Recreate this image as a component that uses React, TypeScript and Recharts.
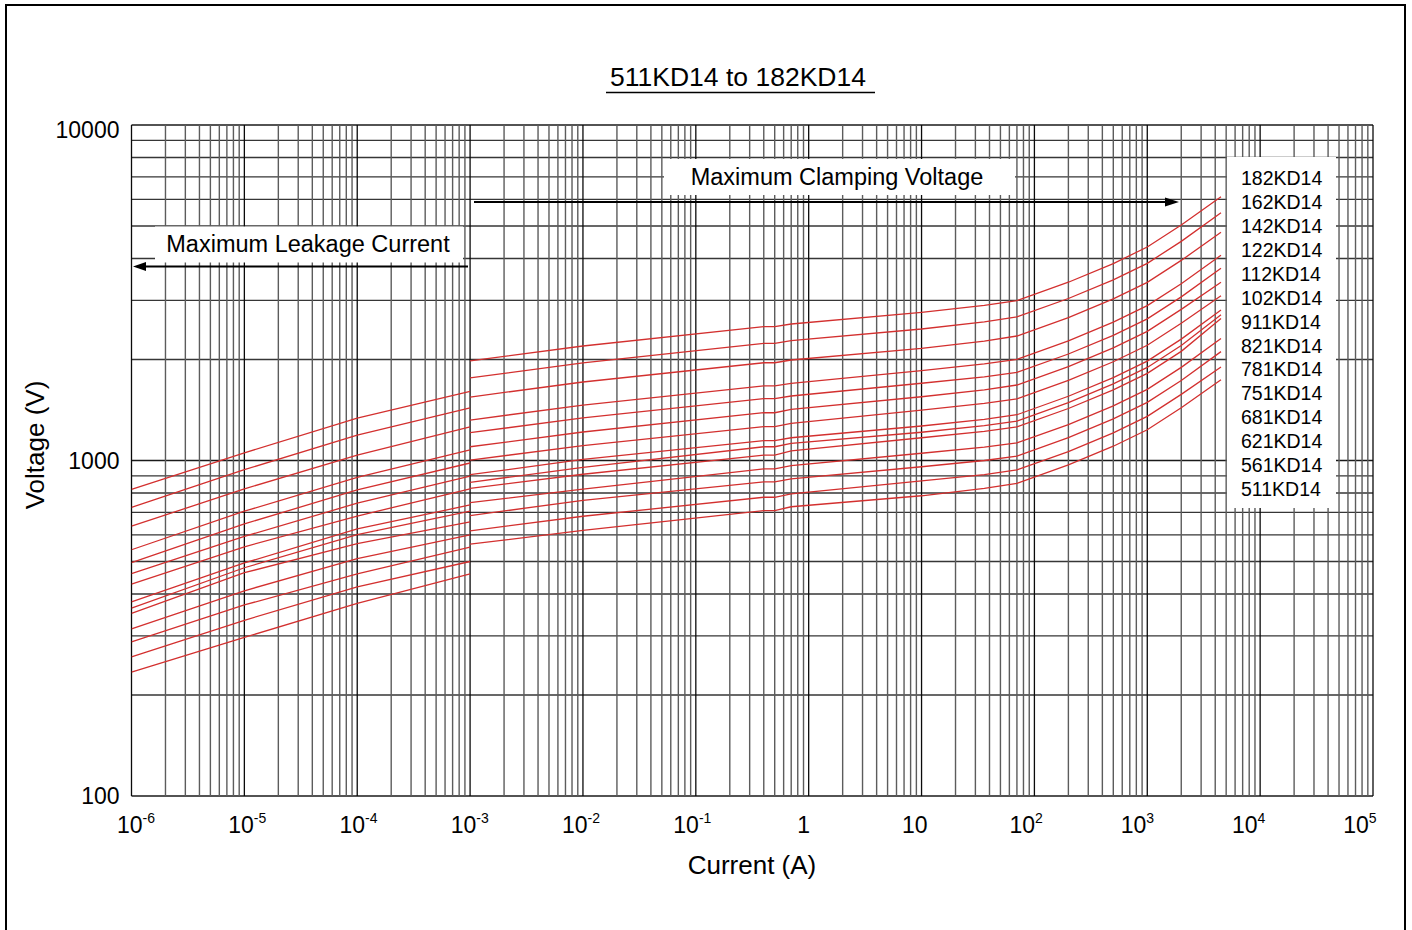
import { Line, LineChart, ReferenceLine, XAxis, YAxis } from "recharts";

const SERIES = [
  "182KD14", "162KD14", "142KD14", "122KD14", "112KD14", "102KD14", "911KD14",
  "821KD14", "781KD14", "751KD14", "681KD14", "621KD14", "561KD14", "511KD14",
];

// leakage side, current in A
const LEAK_I = [1e-6, 1e-5, 1e-4, 1e-3];
const LEAK_V = [
  [820, 1054, 1337, 1606],
  [725, 939, 1190, 1434],
  [637, 823, 1038, 1259],
  [542, 706, 890, 1075],
  [496, 647, 817, 983],
  [460, 594, 746, 899],
  [428, 553, 683, 823],
  [379, 495, 625, 737],
  [363, 479, 601, 707],
  [350, 463, 565, 656],
  [315, 409, 510, 600],
  [288, 371, 459, 552],
  [260, 334, 420, 500],
  [234, 297, 375, 459],
];

// clamping side
const CLAMP_I = [1e-3, 1e-2, 0.4, 0.5, 0.7, 10, 36, 70, 200, 500, 1000, 2000, 4500];
const CLAMP_V = [
  [1981, 2194, 2505, 2505, 2552, 2765, 2899, 2995, 3399, 3864, 4328, 5032, 6113],
  [1762, 1953, 2235, 2235, 2276, 2466, 2589, 2678, 3040, 3455, 3870, 4499, 5478],
  [1546, 1714, 1956, 1956, 1993, 2160, 2270, 2350, 2667, 3032, 3396, 3948, 4788],
  [1320, 1463, 1668, 1668, 1699, 1852, 1940, 2003, 2273, 2584, 2894, 3365, 4089],
  [1210, 1339, 1529, 1529, 1557, 1699, 1775, 1830, 2077, 2361, 2644, 3074, 3741],
  [1099, 1216, 1388, 1388, 1421, 1549, 1624, 1679, 1906, 2166, 2426, 2821, 3398],
  [1003, 1107, 1261, 1261, 1291, 1414, 1479, 1526, 1732, 1969, 2205, 2564, 3099],
  [907, 1008, 1146, 1146, 1169, 1267, 1326, 1369, 1554, 1766, 1978, 2300, 2809],
  [861, 954, 1099, 1099, 1125, 1214, 1270, 1311, 1488, 1691, 1894, 2202, 2720],
  [826, 910, 1038, 1038, 1069, 1169, 1221, 1259, 1429, 1624, 1819, 2115, 2650],
  [749, 822, 944, 944, 965, 1051, 1096, 1128, 1280, 1455, 1630, 1895, 2310],
  [685, 761, 863, 863, 881, 958, 1000, 1031, 1170, 1330, 1490, 1732, 2111],
  [617, 682, 777, 777, 795, 869, 908, 937, 1063, 1209, 1354, 1574, 1900],
  [563, 619, 709, 709, 728, 785, 826, 855, 970, 1103, 1235, 1436, 1741],
];

const DECADES = [1e-6, 1e-5, 1e-4, 1e-3, 1e-2, 1e-1, 1, 10, 100, 1e3, 1e4, 1e5];
const X_BASE = ["10", "10", "10", "10", "10", "10", "1", "10", "10", "10", "10", "10"];
const X_EXP = ["-6", "-5", "-4", "-3", "-2", "-1", "", "", "2", "3", "4", "5"];
const Y_TICKS = [100, 1000, 10000];
const MULT = [2, 3, 4, 5, 6, 7, 8, 9];

const FONT = '"Liberation Sans", Arial, Helvetica, sans-serif';
const RED = "#d3302f";

const rows = (xs: number[], vs: number[]) => xs.map((i, k) => ({ i, v: vs[k] }));

const minorX = DECADES.slice(0, -1).flatMap((d) => MULT.map((m) => d * m));
const minorY = [100, 1000].flatMap((d) => MULT.map((m) => d * m));

function XTick(props: any) {
  const { x, y, payload } = props;
  const k = DECADES.indexOf(payload.value);
  if (k < 0) return null;
  const dx = 4.5 - 1.6 * k;
  return (
    <text x={x + dx} y={y + 37} textAnchor="middle" fontFamily={FONT} fontSize={23} fill="#000">
      <tspan>{X_BASE[k]}</tspan>
      {X_EXP[k] && (
        <tspan dy={-10} fontSize={14}>
          {X_EXP[k]}
        </tspan>
      )}
    </text>
  );
}

function YTick(props: any) {
  const { x, y, payload } = props;
  const extra = payload.value === 10000 ? 5 : 0;
  return (
    <text x={x} y={y + 8 + extra} textAnchor="end" fontFamily={FONT} fontSize={23} fill="#000">
      {payload.value}
    </text>
  );
}

export default function App() {
  return (
    <div
      style={{
        position: "absolute",
        left: 0,
        top: 0,
        width: 1412,
        height: 930,
        background: "#fff",
        overflow: "hidden",
        fontFamily: FONT,
      }}
    >
      <LineChart width={1412} height={930} margin={{ top: 125, right: 39, bottom: 74, left: 31.5 }}>
        <XAxis
          dataKey="i"
          type="number"
          scale="log"
          domain={[1e-6, 1e5]}
          allowDataOverflow
          ticks={DECADES}
          interval={0}
          tickLine={false}
          axisLine={false}
          tickSize={0}
          tickMargin={0}
          height={60}
          tick={(p: any) => <XTick {...p} />}
        />
        <YAxis
          type="number"
          scale="log"
          domain={[100, 10000]}
          allowDataOverflow
          ticks={Y_TICKS}
          interval={0}
          tickLine={false}
          axisLine={false}
          tickSize={0}
          tickMargin={12}
          width={100}
          tick={(p: any) => <YTick {...p} />}
        />
        {minorY.map((v) => (
          <ReferenceLine key={"hy" + v} y={v} stroke="#363636" strokeWidth={1.3} zIndex={-50} />
        ))}
        {Y_TICKS.map((v) => (
          <ReferenceLine key={"hY" + v} y={v} stroke="#1a1a1a" strokeWidth={1.4} zIndex={-50} />
        ))}
        {minorX.map((v) => (
          <ReferenceLine key={"vx" + v} x={v} stroke="#5c5c5c" strokeWidth={1.4} zIndex={-50} />
        ))}
        {DECADES.map((v) => (
          <ReferenceLine key={"vX" + v} x={v} stroke="#0a0a0a" strokeWidth={1.3} zIndex={-50} />
        ))}
        {SERIES.map((name, s) => (
          <Line
            key={"l" + name}
            name={name}
            data={rows(LEAK_I, LEAK_V[s])}
            dataKey="v"
            type="linear"
            stroke={RED}
            strokeWidth={1.3}
            dot={false}
            activeDot={false}
            isAnimationActive={false}
          />
        ))}
        {SERIES.map((name, s) => (
          <Line
            key={"c" + name}
            name={name}
            data={rows(CLAMP_I, CLAMP_V[s])}
            dataKey="v"
            type="linear"
            stroke={RED}
            strokeWidth={1.3}
            dot={false}
            activeDot={false}
            isAnimationActive={false}
          />
        ))}
      </LineChart>

      <svg
        width={1412}
        height={930}
        style={{ position: "absolute", left: 0, top: 0, pointerEvents: "none" }}
        fontFamily={FONT}
      >
        {/* title */}
        <text x={738} y={86} textAnchor="middle" fontSize={26.5} fill="#000">
          511KD14 to 182KD14
        </text>
        <line x1={606} x2={875} y1={92.5} y2={92.5} stroke="#000" strokeWidth={1.3} />

        {/* clamping annotation */}
        <rect x={664} y={159} width={351} height={36} fill="#fff" />
        <text x={837} y={185} textAnchor="middle" fontSize={23.5} fill="#000">
          Maximum Clamping Voltage
        </text>
        <line x1={474} x2={1168} y1={202} y2={202} stroke="#000" strokeWidth={2} />
        <polygon points="1179,202 1165,197.5 1165,206.5" fill="#000" />

        {/* leakage annotation */}
        <rect x={155} y={226.5} width={308} height={36} fill="#fff" />
        <text x={308} y={252} textAnchor="middle" fontSize={23.5} fill="#000">
          Maximum Leakage Current
        </text>
        <line x1={143} x2={468} y1={266.5} y2={266.5} stroke="#000" strokeWidth={2} />
        <polygon points="133,266.5 146,262 146,271" fill="#000" />

        {/* legend */}
        <rect x={1227} y={157} width={109} height={351} fill="#fff" />
        {SERIES.map((name, s) => (
          <text key={name} x={1241} y={185 + s * 23.93} fontSize={19.5} fill="#000">
            {name}
          </text>
        ))}

        {/* axis titles */}
        <text x={752} y={874} textAnchor="middle" fontSize={26} fill="#000">
          Current (A)
        </text>
        <text
          x={44}
          y={445}
          textAnchor="middle"
          fontSize={26}
          fill="#000"
          transform="rotate(-90 44 445)"
        >
          Voltage (V)
        </text>
      </svg>

      <div
        style={{
          position: "absolute",
          left: 5,
          top: 4,
          width: 1401,
          height: 1000,
          border: "2px solid #000",
          boxSizing: "border-box",
          pointerEvents: "none",
        }}
      />
    </div>
  );
}
